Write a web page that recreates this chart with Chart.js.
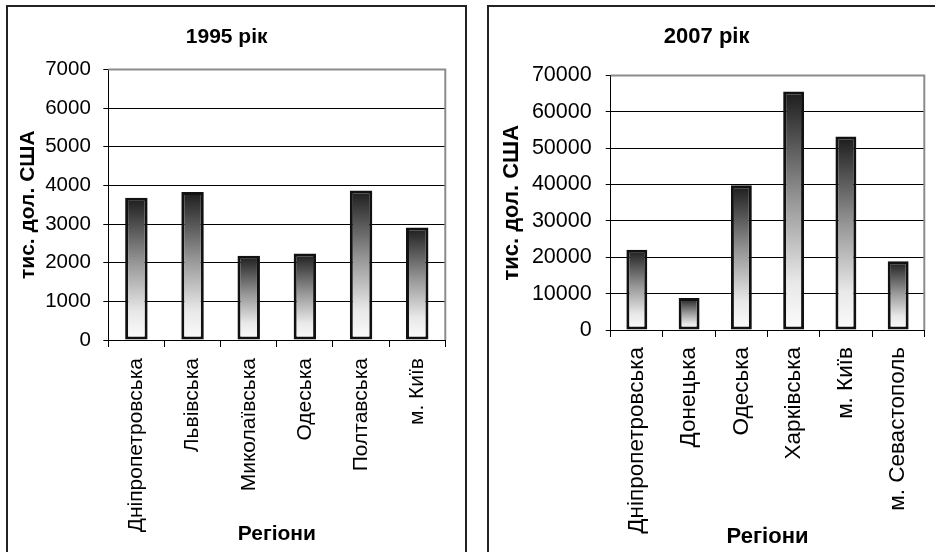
<!DOCTYPE html>
<html>
<head>
<meta charset="utf-8">
<script src="https://cdn.jsdelivr.net/npm/chart.js@4"></script>
<style>
  html, body { margin: 0; padding: 0; background: #fff; overflow: hidden; }
  body { width: 935px; height: 552px; position: relative; }
  .box { position: absolute; top: 5px; width: 461px; height: 560px; box-sizing: border-box; border: 2px solid #222; }
  canvas { position: absolute; top: 7px; }
</style>
</head>
<body>
<div class="box" style="left:6px"></div>
<div class="box" style="left:487px"></div>
<canvas id="chart1995" width="457" height="545" style="left:8px"></canvas>
<canvas id="chart2007" width="457" height="545" style="left:489px"></canvas>
<script>
// дані з рисунку
const regions1995 = ['Дніпропетровська', 'Львівська', 'Миколаївська', 'Одеська', 'Полтавська', 'м. Київ'];
const values1995 = [3680, 3830, 2180, 2240, 3870, 2910];
const yMax1995 = 7000;
const yStep1995 = 1000;

const regions2007 = ['Дніпропетровська', 'Донецька', 'Одеська', 'Харківська', 'м. Київ', 'м. Севастополь'];
const values2007 = [22100, 8800, 39800, 65600, 53200, 18900];
const yMax2007 = 70000;
const yStep2007 = 10000;

const yTitle = 'тис. дол. США';
const xTitle = 'Регіони';

Chart.defaults.font.family = '"Liberation Sans", Arial, sans-serif';
Chart.defaults.color = '#000';

// градієнт кожного стовпчика: темний зверху, білий знизу
function barFill(context) {
    const chart = context.chart;
    const y = chart.scales.y;
    if (!chart.chartArea || !y || context.raw == null) return '#888';
    const top = y.getPixelForValue(context.raw);
    const bottom = y.getPixelForValue(0);
    const g = chart.ctx.createLinearGradient(0, top, 0, bottom);
    g.addColorStop(0, '#1c1c1c');
    g.addColorStop(0.45, '#959595');
    g.addColorStop(0.8, '#e8e8e8');
    g.addColorStop(1, '#fcfcfc');
    return g;
}

// сіра рамка зверху і справа від області побудови
const plotFrame = {
    id: 'plotFrame',
    beforeDatasetsDraw(chart) {
        const { ctx, chartArea: a } = chart;
        ctx.save();
        ctx.strokeStyle = '#8c8c8c';
        ctx.lineWidth = 2;
        ctx.beginPath();
        ctx.moveTo(a.left, a.top);
        ctx.lineTo(a.right, a.top);
        ctx.lineTo(a.right, a.bottom);
        ctx.stroke();
        ctx.restore();
    }
};

function makeChart(id, title, labels, values, yMax, yStep, geo) {
    return new Chart(document.getElementById(id), {
        type: 'bar',
        data: {
            labels: labels,
            datasets: [{
                data: values,
                backgroundColor: barFill,
                borderColor: '#111',
                borderWidth: 3,
                borderSkipped: false,
                categoryPercentage: 1,
                barPercentage: 0.4
            }]
        },
        plugins: [plotFrame],
        options: {
            responsive: false,
            animation: false,
            devicePixelRatio: 1,
            layout: { padding: { left: 0, top: 0, right: geo.right, bottom: 0 } },
            plugins: {
                legend: { display: false },
                tooltip: { enabled: false },
                title: {
                    display: true,
                    text: title,
                    font: { size: geo.bold, weight: 'bold' },
                    padding: { top: geo.titleTop, bottom: geo.titleBottom }
                }
            },
            scales: {
                x: {
                    grid: {
                        display: true,
                        drawOnChartArea: false,
                        color: '#000',
                        tickLength: 7
                    },
                    border: { display: true, color: '#000', width: 1 },
                    ticks: {
                        autoSkip: false,
                        minRotation: 90,
                        maxRotation: 90,
                        padding: geo.xPad,
                        font: { size: geo.cat }
                    },
                    title: {
                        display: true,
                        text: xTitle,
                        font: { size: geo.bold, weight: 'bold' },
                        padding: { top: 0, bottom: geo.xTitleBottom }
                    },
                    afterFit: function (scale) {
                        scale.height = geo.xHeight;
                    }
                },
                y: {
                    min: 0,
                    max: yMax,
                    grid: {
                        color: '#000',
                        tickColor: '#000',
                        tickLength: 5
                    },
                    border: { display: true, color: '#000', width: 1 },
                    ticks: {
                        stepSize: yStep,
                        padding: geo.yPad,
                        font: { size: geo.tick },
                        callback: function (value) {
                            return String(value);
                        }
                    },
                    title: {
                        display: true,
                        text: yTitle,
                        font: { size: geo.bold, weight: 'bold' },
                        padding: { top: geo.yTitleTop, bottom: 0 }
                    },
                    afterFit: function (scale) {
                        scale.width = geo.yWidth;
                    }
                }
            }
        }
    });
}

makeChart('chart1995', '1995 рік', regions1995, values1995, yMax1995, yStep1995, {
    tick: 20.5, cat: 21, bold: 21,
    right: 19.7, titleTop: 17.4, titleBottom: 19.9, xHeight: 212, xPad: 11, xTitleBottom: 4.7,
    yWidth: 100.3, yPad: 12.5, yTitleTop: 7.7
});

makeChart('chart2007', '2007 рік', regions2007, values2007, yMax2007, yStep2007, {
    tick: 21.5, cat: 22.5, bold: 22,
    right: 21.7, titleTop: 16.8, titleBottom: 25.3, xHeight: 222, xPad: 10, xTitleBottom: 2,
    yWidth: 121.7, yPad: 14, yTitleTop: 9.5
});
</script>
</body>
</html>
